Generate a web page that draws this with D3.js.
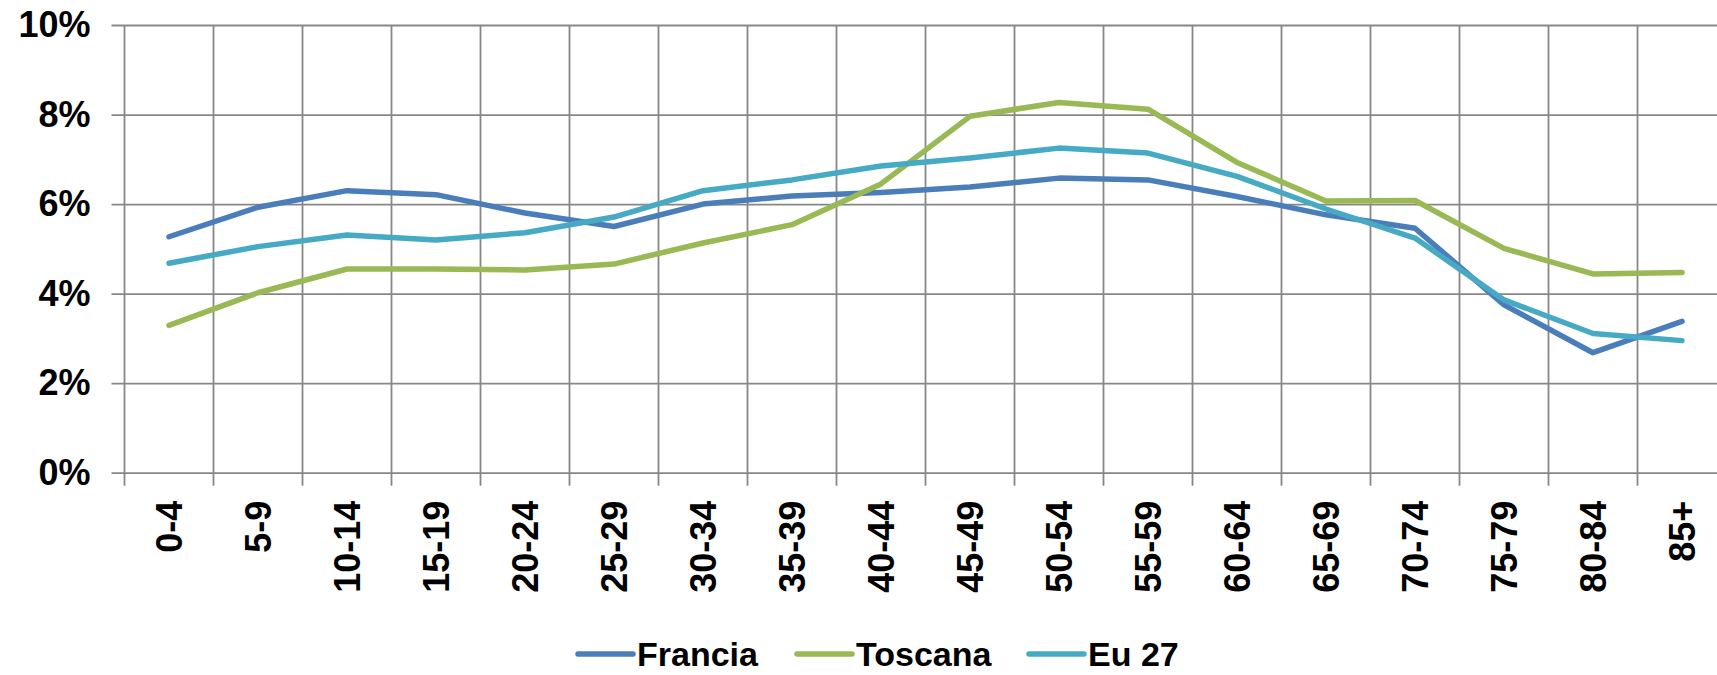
<!DOCTYPE html>
<html>
<head>
<meta charset="utf-8">
<title>Francia, Toscana, Eu 27</title>
<script src="https://d3js.org/d3.v7.min.js"></script>
<style>
    body { margin: 0; background: #fff; }
    svg { display: block; font-family: "Liberation Sans", Arial, sans-serif; font-weight: bold; }
</style>
</head>
<body>
<div id="chart"></div>
<script>
    // age groups
    const ageGroups = ["0-4", "5-9", "10-14", "15-19", "20-24", "25-29", "30-34", "35-39", "40-44",
                       "45-49", "50-54", "55-59", "60-64", "65-69", "70-74", "75-79", "80-84", "85+"];

    // share of population, percent
    const francia = [5.27, 5.93, 6.30, 6.21, 5.80, 5.50, 6.00, 6.18, 6.26, 6.38, 6.58, 6.54, 6.17, 5.76, 5.46, 3.75, 2.68, 3.38];
    const toscana = [3.29, 4.02, 4.55, 4.55, 4.53, 4.66, 5.13, 5.54, 6.45, 7.96, 8.27, 8.12, 6.93, 6.07, 6.08, 5.01, 4.44, 4.47];
    const eu27    = [4.68, 5.05, 5.31, 5.20, 5.36, 5.71, 6.30, 6.54, 6.85, 7.03, 7.25, 7.14, 6.62, 5.89, 5.24, 3.86, 3.11, 2.95];

    const yTicks = [0, 2, 4, 6, 8, 10];

    const series = [
        {name: "Francia", values: francia, color: "#4a7ebb"},
        {name: "Toscana", values: toscana, color: "#98b954"},
        {name: "Eu 27",   values: eu27,    color: "#46aac5"}
    ];

    const w = 1717, h = 675;
    const plotLeft = 124.5, plotTop = 25, plotBottom = 472.7;
    const step = 89;
    const plotRight = plotLeft + step * ageGroups.length;
    const gridColor = "#878787";

    const svg = d3.select("#chart").append("svg")
        .attr("width", w)
        .attr("height", h);

    const x = d3.scaleBand().domain(ageGroups).range([plotLeft, plotRight]);
    const y = d3.scaleLinear().domain([0, 10]).range([plotBottom, plotTop]);

    // horizontal grid + y labels
    const yAxis = svg.append("g")
        .attr("transform", `translate(${plotLeft},0)`)
        .call(d3.axisLeft(y).tickValues(yTicks).tickFormat(d => d + "%").tickSizeOuter(0).tickPadding(28));
    yAxis.select(".domain").remove();
    yAxis.selectAll(".tick line")
        .attr("x1", -13)
        .attr("x2", w - plotLeft)
        .attr("stroke", gridColor)
        .attr("stroke-width", 1.8);
    yAxis.selectAll(".tick text")
        .attr("fill", "#000")
        .style("font-size", "36px")
        .style("font-weight", "bold");

    // vertical grid at category boundaries
    svg.append("g").selectAll("line")
        .data(ageGroups)
        .join("line")
        .attr("x1", d => x(d))
        .attr("x2", d => x(d))
        .attr("y1", y(10))
        .attr("y2", y(0) + 13)
        .attr("stroke", gridColor)
        .attr("stroke-width", 1.8);

    // x labels
    const xAxis = svg.append("g")
        .attr("transform", `translate(0,${plotBottom})`)
        .call(d3.axisBottom(x).tickSize(0));
    xAxis.select(".domain").remove();
    xAxis.selectAll(".tick text")
        .attr("transform", "rotate(-90)")
        .attr("text-anchor", "end")
        .attr("x", -28)
        .attr("y", 0)
        .attr("dy", "0.36em")
        .attr("fill", "#000")
        .style("font-size", "36px")
        .style("font-weight", "bold");

    // lines
    const line = d3.line()
        .x((d, i) => x(ageGroups[i]) + x.bandwidth() / 2)
        .y(d => y(d));

    svg.selectAll(".series")
        .data(series)
        .join("path")
        .attr("class", "series")
        .attr("d", d => line(d.values))
        .attr("fill", "none")
        .attr("stroke", d => d.color)
        .attr("stroke-width", 5.5)
        .attr("stroke-linejoin", "round")
        .attr("stroke-linecap", "round");

    // legend
    const legendX = [578, 797, 1029];
    const legend = svg.append("g").selectAll("g")
        .data(series)
        .join("g")
        .attr("transform", (d, i) => `translate(${legendX[i]},654)`);
    legend.append("line")
        .attr("x1", 0).attr("x2", 55)
        .attr("stroke", d => d.color)
        .attr("stroke-width", 5.5)
        .attr("stroke-linecap", "round");
    legend.append("text")
        .attr("x", 59)
        .attr("dy", "0.36em")
        .style("font-size", "34px")
        .text(d => d.name);
</script>
</body>
</html>
